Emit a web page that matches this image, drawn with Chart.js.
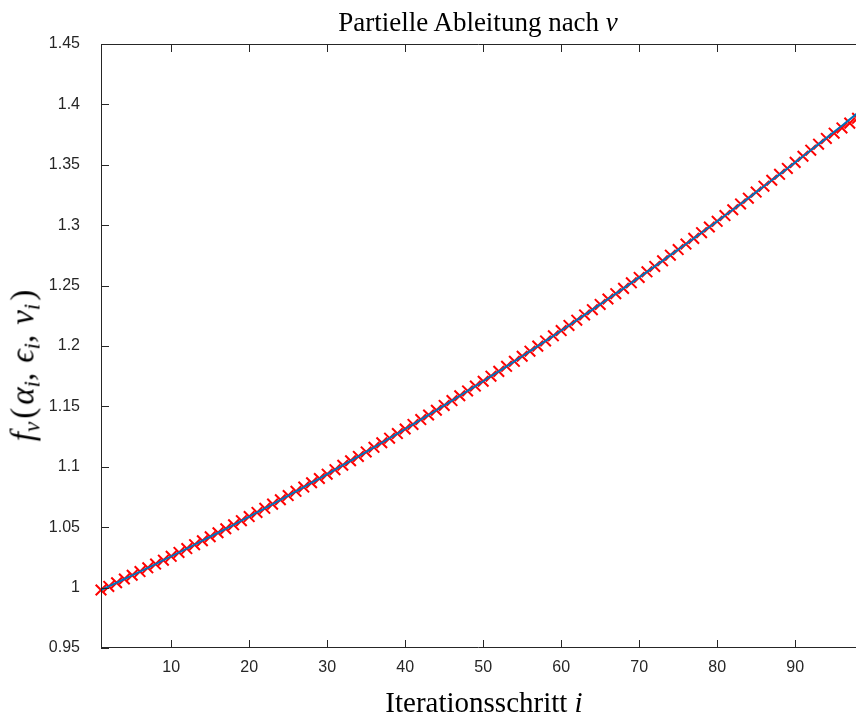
<!DOCTYPE html>
<html>
<head>
<meta charset="utf-8">
<script src="https://cdn.jsdelivr.net/npm/chart.js@4/dist/chart.umd.min.js"></script>
<style>
  body { margin: 0; background: #fff; }
  #wrap { position: relative; width: 856px; height: 715px; overflow: hidden; }
  .lbl { position: absolute; font-family: "Liberation Serif", serif; color: #000; white-space: nowrap; }
  #title { left: 478px; top: 7px; transform: translateX(-50%); font-size: 27px; }
  #xlab { left: 484px; top: 686px; transform: translateX(-50%); font-size: 29px; }
  #ylab { left: 23px; top: 364px; transform: translate(-50%, -50%) rotate(-90deg); font-size: 33px; }
  #ylab .c { margin-right: 10px; }
  #ylab .p { margin: 0 3px; }
  sub { font-size: 0.7em; vertical-align: -0.25em; line-height: 0; }
</style>
</head>
<body>
<div id="wrap">
  <canvas id="partialChart" width="856" height="715"></canvas>
  <div class="lbl" id="title">Partielle Ableitung nach <i>v</i></div>
  <div class="lbl" id="xlab">Iterationsschritt <i>i</i></div>
  <div class="lbl" id="ylab"><i>f</i><sub><i>v</i></sub><span class="p">(</span><i>α</i><sub><i>i</i></sub><span class="c">,</span><i>ϵ</i><sub><i>i</i></sub><span class="c">,</span><i>v</i><sub><i>i</i></sub><span class="p">)</span></div>
</div>
<script>
// iteration steps
const iterations = [
  1, 2, 3, 4, 5, 6, 7, 8, 9, 10, 11, 12, 13, 14, 15, 16, 17, 18, 19, 20,
  21, 22, 23, 24, 25, 26, 27, 28, 29, 30, 31, 32, 33, 34, 35, 36, 37, 38, 39, 40,
  41, 42, 43, 44, 45, 46, 47, 48, 49, 50, 51, 52, 53, 54, 55, 56, 57, 58, 59, 60,
  61, 62, 63, 64, 65, 66, 67, 68, 69, 70, 71, 72, 73, 74, 75, 76, 77, 78, 79, 80,
  81, 82, 83, 84, 85, 86, 87, 88, 89, 90, 91, 92, 93, 94, 95, 96, 97, 98
];

// blue line (exact)
const exactValues = [
  0.9980, 1.0010, 1.0040, 1.0071, 1.0102, 1.0133, 1.0164, 1.0195, 1.0227, 1.0259,
  1.0291, 1.0323, 1.0355, 1.0388, 1.0421, 1.0454, 1.0487, 1.0520, 1.0554, 1.0588,
  1.0622, 1.0656, 1.0691, 1.0727, 1.0762, 1.0797, 1.0832, 1.0868, 1.0903, 1.0939,
  1.0976, 1.1013, 1.1050, 1.1086, 1.1123, 1.1161, 1.1199, 1.1237, 1.1275, 1.1313,
  1.1351, 1.1391, 1.1429, 1.1468, 1.1508, 1.1548, 1.1588, 1.1628, 1.1668, 1.1708,
  1.1750, 1.1790, 1.1832, 1.1873, 1.1915, 1.1957, 1.1999, 1.2042, 1.2084, 1.2128,
  1.2170, 1.2214, 1.2257, 1.2301, 1.2344, 1.2389, 1.2433, 1.2477, 1.2523, 1.2568,
  1.2614, 1.2659, 1.2705, 1.2752, 1.2798, 1.2844, 1.2891, 1.2938, 1.2985, 1.3032,
  1.3080, 1.3128, 1.3176, 1.3224, 1.3274, 1.3323, 1.3372, 1.3421, 1.3470, 1.3520,
  1.3571, 1.3621, 1.3671, 1.3721, 1.3773, 1.3824, 1.3876, 1.3928
];

// red crosses (approximation)
const approxValues = [
  0.9980, 1.0010, 1.0040, 1.0071, 1.0102, 1.0133, 1.0164, 1.0195, 1.0227, 1.0259,
  1.0291, 1.0323, 1.0355, 1.0388, 1.0421, 1.0454, 1.0487, 1.0520, 1.0554, 1.0588,
  1.0622, 1.0656, 1.0691, 1.0727, 1.0762, 1.0797, 1.0832, 1.0868, 1.0903, 1.0939,
  1.0976, 1.1013, 1.1050, 1.1086, 1.1123, 1.1161, 1.1199, 1.1237, 1.1275, 1.1313,
  1.1351, 1.1391, 1.1429, 1.1468, 1.1508, 1.1548, 1.1588, 1.1628, 1.1668, 1.1708,
  1.1750, 1.1790, 1.1832, 1.1873, 1.1915, 1.1957, 1.1999, 1.2042, 1.2084, 1.2128,
  1.2170, 1.2214, 1.2257, 1.2301, 1.2344, 1.2389, 1.2433, 1.2477, 1.2523, 1.2568,
  1.2614, 1.2659, 1.2705, 1.2752, 1.2798, 1.2844, 1.2891, 1.2938, 1.2985, 1.3032,
  1.3080, 1.3128, 1.3176, 1.3224, 1.3274, 1.3323, 1.3372, 1.3421, 1.3470, 1.3520,
  1.3571, 1.3621, 1.3671, 1.3718, 1.3762, 1.3805, 1.3845, 1.3885
];

const xTicks = [10, 20, 30, 40, 50, 60, 70, 80, 90];
const yTicks = [0.95, 1.0, 1.05, 1.1, 1.15, 1.2, 1.25, 1.3, 1.35, 1.4, 1.45];
const yTickLabels = ['0.95', '1', '1.05', '1.1', '1.15', '1.2', '1.25', '1.3', '1.35', '1.4', '1.45'];

const axisColor = '#262626';

// MATLAB-ish box: inward ticks on bottom/top/left
const boxAxes = {
  id: 'boxAxes',
  afterDraw(chart) {
    const { ctx, chartArea: a, scales: { x, y } } = chart;
    ctx.save();
    ctx.strokeStyle = axisColor;
    ctx.lineWidth = 1;
    ctx.beginPath();
    ctx.moveTo(a.left + 0.5, a.top);
    ctx.lineTo(a.left + 0.5, a.bottom);
    ctx.moveTo(a.left, a.bottom - 0.5);
    ctx.lineTo(a.right, a.bottom - 0.5);
    ctx.moveTo(a.left, a.top + 0.5);
    ctx.lineTo(a.right, a.top + 0.5);
    xTicks.forEach(v => {
      const px = Math.round(x.getPixelForValue(v)) + 0.5;
      ctx.moveTo(px, a.bottom);
      ctx.lineTo(px, a.bottom - 8);
      ctx.moveTo(px, a.top);
      ctx.lineTo(px, a.top + 8);
    });
    yTicks.forEach(v => {
      const py = Math.round(y.getPixelForValue(v)) + 0.5;
      ctx.moveTo(a.left, py);
      ctx.lineTo(a.left + 8, py);
    });
    ctx.stroke();
    ctx.restore();
  }
};

const ctx = document.getElementById('partialChart').getContext('2d');
new Chart(ctx, {
  type: 'line',
  data: {
    datasets: [{
      label: 'exakt',
      data: iterations.map((it, k) => ({ x: it, y: exactValues[k] })),
      borderColor: '#0072BD',
      borderWidth: 2,
      pointRadius: 0,
      tension: 0,
      clip: false
    }, {
      label: 'Näherung',
      data: iterations.map((it, k) => ({ x: it, y: approxValues[k] })),
      showLine: false,
      pointStyle: 'crossRot',
      pointRadius: 7.5,
      pointBorderColor: '#ff0000',
      pointBorderWidth: 2,
      clip: false
    }]
  },
  options: {
    responsive: false,
    animation: false,
    layout: {
      autoPadding: false,
      padding: { top: 44, left: 0, right: 0, bottom: 0 }
    },
    scales: {
      x: {
        type: 'linear',
        min: 1,
        max: 97.8,
        grid: { display: false, drawTicks: false },
        border: { display: false },
        afterBuildTicks: s => { s.ticks = xTicks.map(v => ({ value: v })); },
        afterFit: s => { s.height = 67; },
        ticks: {
          padding: 10,
          color: axisColor,
          font: { family: 'Liberation Sans', size: 16 },
          callback: v => String(v)
        }
      },
      y: {
        type: 'linear',
        min: 0.95,
        max: 1.45,
        grid: { display: false, drawTicks: false },
        border: { display: false },
        afterBuildTicks: s => { s.ticks = yTicks.map(v => ({ value: v })); },
        afterFit: s => { s.width = 101; },
        ticks: {
          padding: 21,
          color: axisColor,
          font: { family: 'Liberation Sans', size: 16 },
          callback: (v, i) => yTickLabels[i]
        }
      }
    },
    plugins: {
      legend: { display: false },
      tooltip: { enabled: false }
    }
  },
  plugins: [boxAxes]
});
</script>
</body>
</html>
